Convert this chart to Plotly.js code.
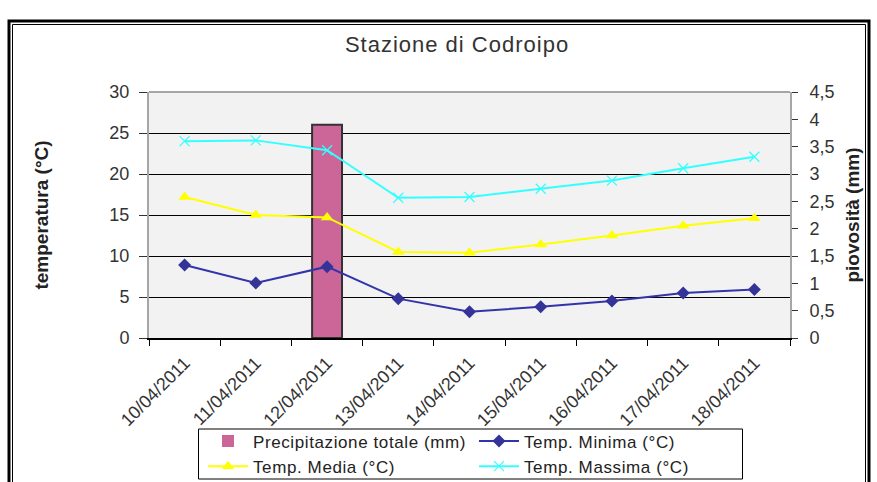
<!DOCTYPE html>
<html>
<head>
<meta charset="utf-8">
<script src="https://cdn.plot.ly/plotly-3.0.1.min.js"></script>
<style>
html,body{margin:0;padding:0;background:#fff;}
#chart{width:877px;height:482px;}
#chart .gtitle{letter-spacing:1px;}
#chart .legendtext{letter-spacing:0.6px;}
</style>
</head>
<body>
<div id="chart"></div>
<script>
const dates = ["10/04/2011","11/04/2011","12/04/2011","13/04/2011","14/04/2011","15/04/2011","16/04/2011","17/04/2011","18/04/2011"];
const precipitazione = [0, 0, 3.9, 0, 0, 0, 0, 0, 0];
const tMinima = [8.9, 6.7, 8.7, 4.8, 3.2, 3.8, 4.5, 5.5, 5.9];
const tMedia = [17.2, 15.0, 14.7, 10.5, 10.4, 11.4, 12.5, 13.7, 14.6];
const tMassima = [24.0, 24.1, 22.9, 17.1, 17.2, 18.2, 19.2, 20.7, 22.1];

const W = 877, H = 482;
const L = 149, R = 87, T = 92, B = 144;
const pw = W - L - R, ph = H - T - B;
const px = x => (x - L) / pw;
const py = y => (H - B - y) / ph;

const font = "Liberation Sans, Arial, sans-serif";

const traces = [
  {
    type: "bar", name: "Precipitazione totale (mm)", x: dates, y: precipitazione,
    yaxis: "y", width: 0.42,
    marker: {color: "#cc6699", line: {color: "#333333", width: precipitazione.map(v => v > 0 ? 2 : 0)}}
  },
  {
    type: "scatter", mode: "lines+markers", name: "Temp. Minima (°C)", x: dates, y: tMinima,
    yaxis: "y2",
    line: {color: "#3333aa", width: 2},
    marker: {symbol: "diamond", size: 10, color: "#333399"}
  },
  {
    type: "scatter", mode: "lines+markers", name: "Temp. Media (°C)", x: dates, y: tMedia,
    yaxis: "y2",
    line: {color: "#ffff00", width: 2},
    marker: {symbol: "triangle-up", size: 11, color: "#ffff00"}
  },
  {
    type: "scatter", mode: "lines+markers", name: "Temp. Massima (°C)", x: dates, y: tMassima,
    yaxis: "y2",
    line: {color: "#33ffff", width: 2},
    marker: {symbol: "x-thin-open", size: 10, color: "#33ffff", line: {color: "#33ffff", width: 1.2}}
  }
];

const layout = {
  width: W, height: H,
  margin: {l: L, r: R, t: T, b: B, pad: 0, autoexpand: false},
  paper_bgcolor: "#ffffff",
  plot_bgcolor: "#f2f2f2",
  separators: ",.",
  font: {family: font, size: 18, color: "#333333"},
  showlegend: true,
  title: {
    text: "Stazione di Codroipo",
    font: {family: font, size: 22, color: "#333333"},
    xref: "container", yref: "container",
    x: 457 / W, y: 1 - 44 / H, xanchor: "center", yanchor: "middle"
  },
  xaxis: {
    type: "category",
    range: [-0.5, 8.5],
    tickangle: -45,
    ticks: "outside", tickson: "boundaries", ticklen: 6, tickcolor: "#000000", tickwidth: 1,
    ticklabelstandoff: 6,
    showline: true, linecolor: "#000000", linewidth: 1.5,
    showgrid: false, zeroline: false,
    tickfont: {family: font, size: 18, color: "#333333"}
  },
  yaxis: {
    side: "right",
    range: [0, 4.5], dtick: 0.5, tick0: 0,
    ticks: "outside", ticklen: 6, tickcolor: "#333333",
    ticklabelstandoff: 8,
    showline: true, linecolor: "#a6a6a6", linewidth: 2,
    showgrid: false, zeroline: false,
    tickfont: {family: font, size: 18, color: "#333333"},
    title: {text: "piovosità (mm)", standoff: 12, font: {family: font, size: 19, color: "#222222", weight: "bold"}}
  },
  yaxis2: {
    overlaying: "y", side: "left",
    range: [0, 30], dtick: 5, tick0: 0,
    ticks: "outside", ticklen: 8, tickcolor: "#333333",
    ticklabelstandoff: 6,
    showline: true, linecolor: "#a6a6a6", linewidth: 2,
    showgrid: true, gridcolor: "#000000", gridwidth: 1,
    zeroline: false,
    tickfont: {family: font, size: 18, color: "#333333"},
    title: {text: "temperatura (°C)", standoff: 56, font: {family: font, size: 19, color: "#222222", weight: "bold"}}
  },
  legend: {
    orientation: "h",
    x: px(203), xanchor: "left",
    y: py(423.5), yanchor: "top",
    bgcolor: "rgba(0,0,0,0)", borderwidth: 0,
    itemwidth: 40,
    entrywidth: 216,
    font: {family: font, size: 17, color: "#222222"},
    traceorder: "normal"
  },
  shapes: [
    {type: "line", xref: "paper", yref: "paper", x0: 0, x1: 1, y0: 1, y1: 1, line: {color: "#a6a6a6", width: 2}},
    {type: "rect", xref: "paper", yref: "paper", x0: px(198.5), x1: px(742.5), y0: py(429), y1: py(479), line: {color: "#000000", width: 1}, fillcolor: "#ffffff", layer: "above"},
    {type: "rect", xref: "paper", yref: "paper", x0: px(9), x1: px(869), y0: py(21), y1: py(520), line: {color: "#000000", width: 3}, fillcolor: "rgba(0,0,0,0)", layer: "above"},
    {type: "rect", xref: "paper", yref: "paper", x0: px(12.5), x1: px(865.5), y0: py(24.5), y1: py(520), line: {color: "#000000", width: 1}, fillcolor: "rgba(0,0,0,0)", layer: "above"}
  ]
};

Plotly.newPlot("chart", traces, layout, {displayModeBar: false, staticPlot: true});
</script>
</body>
</html>
